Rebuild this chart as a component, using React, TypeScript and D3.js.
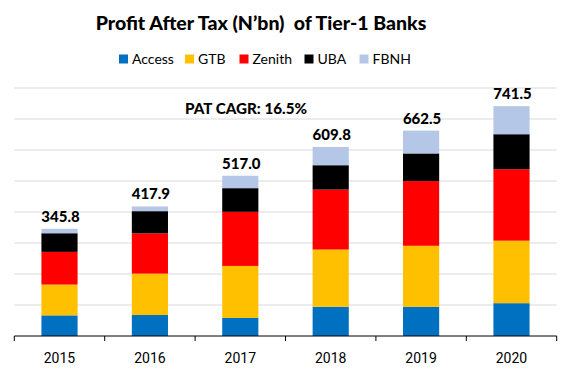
import React from "react";
import * as d3 from "d3";

const years = ["2015", "2016", "2017", "2018", "2019", "2020"];
const banks = ["Access", "GTB", "Zenith", "UBA", "FBNH"];
const access = [66.5, 67.7, 58.4, 94.3, 94.1, 105.9];
const gtb = [99.4, 133.5, 167.7, 184.6, 196.9, 201.6];
const zenith = [105.5, 130.0, 174.4, 193.4, 208.8, 230.6];
const uba = [60.1, 71.5, 76.4, 78.6, 89.1, 112.8];
const fbnh = [14.3, 15.2, 40.1, 58.9, 73.6, 90.6];
const totals = ["345.8", "417.9", "517.0", "609.8", "662.5", "741.5"];
const yTicks = [100, 200, 300, 400, 500, 600, 700, 800];
const colors = ["#0070C0", "#FFC000", "#FF0000", "#000000", "#B4C7E7"];
const seriesValues = [access, gtb, zenith, uba, fbnh];

export default function App() {
  const W = 571, H = 377;
  const x = d3.scaleBand().domain(years).range([14.3, 556.7]).paddingInner(0.6).paddingOuter(0.3);
  const y = d3.scaleLinear().domain([0, 800]).range([336, 88]);
  const rows = years.map((yr, i) => {
    const r: any = { year: yr };
    banks.forEach((b, j) => (r[b] = seriesValues[j][i]));
    return r;
  });
  const stacked = d3.stack().keys(banks)(rows as any);
  const step = x.step();
  const start = 14.3;
  const font = "Lato, 'Open Sans', sans-serif";
  const legendX = [119, 185, 239.5, 304.5, 359.5];
  return (
    <div style={{ position: "absolute", left: 0, top: 0 }}>
      <svg width={W} height={H} style={{ display: "block", background: "#fff" }}>
        <text x={261} y={29.5} textAnchor="middle" fontFamily={font} fontWeight={900} fontSize={19.5} fill="#000" style={{ whiteSpace: "pre" }}>
          {"Profit After Tax (N’bn)  of Tier-1 Banks"}
        </text>
        {banks.map((b, i) => (
          <g key={b}>
            <rect x={legendX[i]} y={54.5} width={9} height={9} fill={colors[i]} />
            <text x={legendX[i] + 13} y={64} fontFamily={font} fontSize={14} fill="#000">{b}</text>
          </g>
        ))}
        {yTicks.map((t) => (
          <line key={t} x1={14.3} x2={556.7} y1={y(t)} y2={y(t)} stroke="#d9d9d9" strokeWidth={1} />
        ))}
        {stacked.map((s, j) => (
          <g key={banks[j]} fill={colors[j]}>
            {s.map((d: any, i) => (
              <rect key={i} x={x(years[i])} width={x.bandwidth()} y={y(d[1])} height={y(d[0]) - y(d[1])} />
            ))}
          </g>
        ))}
        <line x1={14.3} x2={556.7} y1={336} y2={336} stroke="#000" strokeWidth={1} />
        {d3.range(years.length + 1).map((i) => (
          <line key={i} x1={start + i * step} x2={start + i * step} y1={336} y2={341} stroke="#000" strokeWidth={1} />
        ))}
        {years.map((yr) => (
          <text key={yr} x={(x(yr) as number) + x.bandwidth() / 2} y={363} textAnchor="middle" fontFamily="Roboto, sans-serif" fontSize={14} fill="#000">{yr}</text>
        ))}
        {years.map((yr, i) => (
          <text key={"t" + yr} x={(x(yr) as number) + x.bandwidth() / 2 + 1} y={y(stacked[4][i][1]) - 7} textAnchor="middle" fontFamily={font} fontWeight={900} fontSize={15} fill="#000">{totals[i]}</text>
        ))}
        <text x={185} y={114} fontFamily={font} fontWeight={900} fontSize={15.2} fill="#000">PAT CAGR: 16.5%</text>
      </svg>
    </div>
  );
}
